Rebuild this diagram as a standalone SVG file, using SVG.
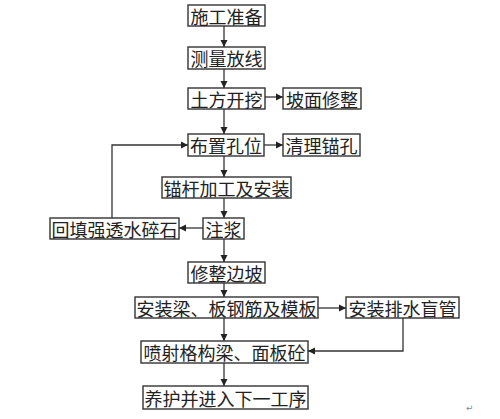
<svg xmlns="http://www.w3.org/2000/svg" width="500" height="419" viewBox="0 0 500 419">
<defs>
<marker id="ah" markerWidth="8" markerHeight="8" refX="7" refY="4" orient="auto" markerUnits="userSpaceOnUse">
<path d="M0,0.5 L7,4 L0,7.5 z" fill="#222"/>
</marker>
<style>
.b{fill:#fff;stroke:#333;stroke-width:1.4}
.t{font-family:"Noto Sans CJK SC","Noto Sans",sans-serif;font-size:18px;fill:#222;text-anchor:middle;dominant-baseline:central}
.c{fill:none;stroke:#333;stroke-width:1.3}
</style>
</defs>
<rect width="500" height="419" fill="#fff"/>
<g id="connectors">
<line class="c" x1="224" y1="26" x2="224" y2="47" marker-end="url(#ah)"/>
<line class="c" x1="224" y1="69" x2="224" y2="88" marker-end="url(#ah)"/>
<line class="c" x1="265" y1="97" x2="283" y2="97" marker-end="url(#ah)"/>
<line class="c" x1="224" y1="109" x2="224" y2="134" marker-end="url(#ah)"/>
<line class="c" x1="264" y1="145" x2="283" y2="145" marker-end="url(#ah)"/>
<line class="c" x1="224" y1="156" x2="224" y2="177" marker-end="url(#ah)"/>
<line class="c" x1="224" y1="198" x2="224" y2="218" marker-end="url(#ah)"/>
<line class="c" x1="203" y1="228" x2="179" y2="228" marker-end="url(#ah)"/>
<polyline class="c" points="112,218 112,145 188,145" marker-end="url(#ah)"/>
<line class="c" x1="224" y1="239" x2="224" y2="262" marker-end="url(#ah)"/>
<line class="c" x1="224" y1="283" x2="224" y2="297" marker-end="url(#ah)"/>
<line class="c" x1="318" y1="308" x2="346" y2="308" marker-end="url(#ah)"/>
<line class="c" x1="224" y1="318" x2="224" y2="341" marker-end="url(#ah)"/>
<polyline class="c" points="403,318 403,351 308,351" marker-end="url(#ah)"/>
<line class="c" x1="224" y1="363" x2="224" y2="386" marker-end="url(#ah)"/>
</g>
<g id="n1"><rect class="b" x="188" y="5" width="77" height="21"/><text class="t" x="226.5" y="15.5">施工准备</text></g>
<g id="n2"><rect class="b" x="188" y="47" width="77" height="22"/><text class="t" x="226.5" y="58">测量放线</text></g>
<g id="n3"><rect class="b" x="188" y="88" width="77" height="21"/><text class="t" x="226.5" y="98.5">土方开挖</text></g>
<g id="n3b"><rect class="b" x="283" y="88" width="78" height="21"/><text class="t" x="322" y="98.5">坡面修整</text></g>
<g id="n4"><rect class="b" x="188" y="134" width="76" height="22"/><text class="t" x="226" y="145">布置孔位</text></g>
<g id="n4b"><rect class="b" x="283" y="134" width="77" height="22"/><text class="t" x="321.5" y="145">清理锚孔</text></g>
<g id="n5"><rect class="b" x="162" y="177" width="129" height="21"/><text class="t" x="226.5" y="187.5">锚杆加工及安装</text></g>
<g id="n6"><rect class="b" x="203" y="218" width="41" height="21"/><text class="t" x="223.5" y="228.5">注浆</text></g>
<g id="n6b"><rect class="b" x="50" y="218" width="129" height="21"/><text class="t" x="114.5" y="228.5">回填强透水碎石</text></g>
<g id="n7"><rect class="b" x="188" y="262" width="77" height="21"/><text class="t" x="226.5" y="272.5">修整边坡</text></g>
<g id="n8"><rect class="b" x="135" y="297" width="183" height="21"/><text class="t" x="226.5" y="307.5">安装梁、板钢筋及模板</text></g>
<g id="n8b"><rect class="b" x="346" y="297" width="113" height="21"/><text class="t" x="402.5" y="307.5">安装排水盲管</text></g>
<g id="n9"><rect class="b" x="141" y="341" width="167" height="22"/><text class="t" x="224.5" y="352">喷射格构梁、面板砼</text></g>
<g id="n10"><rect class="b" x="143" y="386" width="165" height="23"/><text class="t" x="225.5" y="397.5">养护并进入下一工序</text></g>
<text x="466" y="411" font-family="DejaVu Sans,sans-serif" font-size="9" fill="#888">↵</text>
</svg>
